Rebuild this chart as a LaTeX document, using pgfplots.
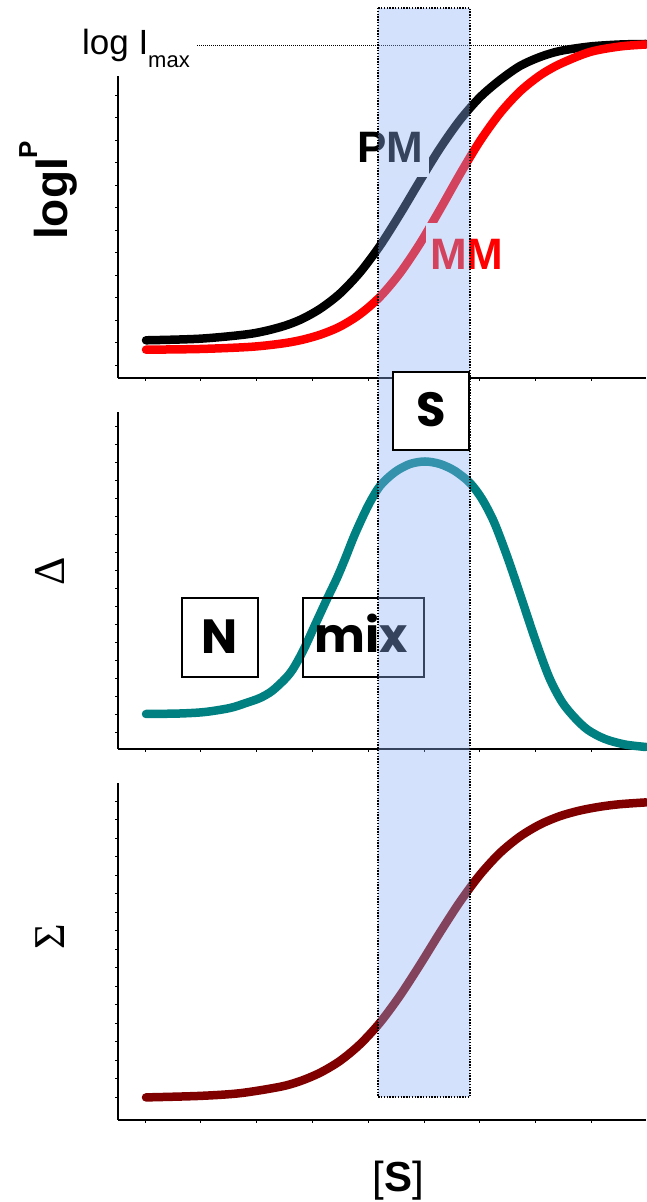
\documentclass[border=0pt]{standalone}
\usepackage{pgfplots}
\pgfplotsset{compat=1.18}
\usepackage{fontspec}
\setmainfont{Liberation Sans}
\newfontfamily\greekserif{Liberation Serif}
\newfontfamily\hand{Poppins}

\definecolor{mmred}{RGB}{255,0,0}
\definecolor{deltateal}{RGB}{0,128,128}
\definecolor{sigmared}{RGB}{128,0,0}
\definecolor{bandblue}{RGB}{140,177,246}

% common look of the three stacked panels (x in the same units everywhere)
\pgfplotsset{
  panel/.style={
    scale only axis, width=528pt, anchor=south west,
    xmin=118, xmax=646, ymin=0,
    axis lines=left,
    axis line style={-, line width=1.2pt, black},
    xtick={145,200.8,256.6,312.4,368.2,424,479.8,535.6,591.4},
    xticklabels={}, yticklabels={},
    tick align=outside, major tick length=3pt,
    tick style={line width=0.8pt, black},
    clip=false,
  },
  curve/.style={line width=8.5pt, line cap=round, smooth},
}

\begin{document}
\begin{tikzpicture}
\path[use as bounding box] (0,0) rectangle (646pt,1202pt);

% level of the maximum intensity
\begin{scope}[shift={(0pt,1202pt)}, x=1pt, y=-1pt]
  \draw[line width=0.8pt, dash pattern=on 1pt off 1pt] (197,45) -- (646,45);
  \node[anchor=base west, inner sep=0] at (82,55) {\fontsize{35pt}{40pt}\selectfont log I};
  \node[anchor=base west, inner sep=0] at (148,68) {\fontsize{22pt}{26pt}\selectfont max};
\end{scope}

% intensities of the perfect-match and mismatch probes
\begin{axis}[panel, at={(118pt,824pt)}, height=302pt, ymax=302,
  ytick={13,35.5,...,283}]
  \addplot[curve, black] coordinates {
    (146,37.7) (200,39.3) (250,44.1) (280,50.8) (300,58.1) (320,69.1)
    (340,84.5) (360,105.6) (380,132.3) (400,163.8) (420,197.3) (440,229.7)
    (460,258) (480,280.8) (500,298) (520,312) (540,321) (560,327)
    (590,331.5) (620,333.5) (646,334)};
  \addplot[curve, mmred] coordinates {
    (146,28.3) (200,29) (250,31.1) (280,34.2) (300,37.7) (320,43.2)
    (340,51.4) (360,63.8) (380,81.2) (400,104.9) (420,134.5) (440,168.5)
    (460,203.9) (480,237) (500,264.8) (520,286.6) (540,302.6) (560,314)
    (590,326) (620,331.5) (646,333.5)};
\end{axis}

% difference
\begin{axis}[panel, at={(118pt,453pt)}, height=337pt, ymax=337,
  ytick={17,35,...,323}]
  \addplot[curve, deltateal] coordinates {
    (146,35) (180,35.5) (205,37) (230,41) (246,46) (260,51) (272,58)
    (285,70) (293,80) (303,98) (315,124) (327,150) (337,171) (345,190)
    (355,215) (368,243) (380,263) (395,277) (410,285) (425,287.5)
    (440,285) (455,278) (470,266) (482,250) (494,227) (507,193)
    (520,155) (535,110) (549,72) (562,47) (575,31) (588,19) (605,10)
    (625,4.5) (646,2)};
\end{axis}

% sum
\begin{axis}[panel, at={(118pt,82pt)}, height=337pt, ymax=337,
  ytick={23,41.5,...,320}]
  \addplot[curve, sigmared] coordinates {
    (146,22.6) (200,24.1) (240,26.8) (280,33.2) (300,38.8) (320,47.2)
    (340,59.1) (360,75.7) (380,97.4) (400,124.4) (420,155.2)
    (440,187.5) (460,218.3) (480,245.3) (500,267.1) (520,283.5)
    (540,295.5) (560,303.9) (580,309.5) (600,313.3) (620,315.8)
    (646,317.6)};
\end{axis}

\begin{scope}[shift={(0pt,1202pt)}, x=1pt, y=-1pt]
  % axis titles
  \node[rotate=90, anchor=base west, inner sep=0] at (67,240)
    {\bfseries\fontsize{46pt}{50pt}\selectfont logI\raisebox{30pt}{\fontsize{26pt}{28pt}\selectfont P}};
  \node[rotate=90, inner sep=0] at (50,571) {\greekserif\fontsize{44pt}{48pt}\selectfont Δ};
  \node[rotate=90, inner sep=0] at (50,937) {\greekserif\fontsize{44pt}{48pt}\selectfont Σ};
  \node[anchor=base, inner sep=0] at (398.5,1192) {\fontsize{42pt}{46pt}\selectfont [\textbf{S}]};

  % curve names, cut out of the curves
  \fill[white] (350,124) rectangle (429,177);
  \node[anchor=base west, inner sep=0] at (357,163) {\bfseries\fontsize{44pt}{48pt}\selectfont PM};
  \fill[white] (426,223) rectangle (505,285);
  \node[anchor=base west, inner sep=0, text=mmred] at (430,270) {\bfseries\fontsize{44pt}{48pt}\selectfont MM};

  % regimes
  \draw[line width=1.3pt] (182,598) rectangle (258,677);
  \node[anchor=base, inner sep=0] at (220,654) {\hand\bfseries\fontsize{48pt}{52pt}\selectfont N};
  \draw[line width=1.3pt] (303,598) rectangle (424,677);
  \node[anchor=base, inner sep=0] at (361.5,653) {\hand\bfseries\fontsize{48pt}{52pt}\selectfont mix};

  % specific-binding range
  \fill[bandblue, opacity=0.38] (378,8) rectangle (470,1097);
  \draw[line width=1.4pt, dash pattern=on 1.4pt off 1.4pt] (378,8) rectangle (470,1097);

  \filldraw[fill=white, draw=black, line width=1.3pt] (393,372) rectangle (469,450);
  \node[anchor=base, inner sep=0] at (431,427) {\hand\bfseries\fontsize{48pt}{52pt}\selectfont S};
\end{scope}
\end{tikzpicture}
\end{document}
